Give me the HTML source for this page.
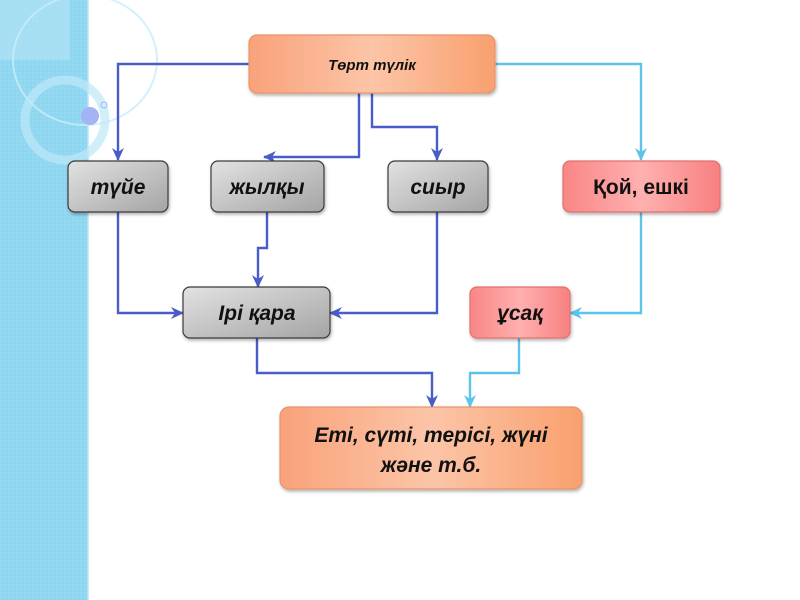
<!DOCTYPE html>
<html><head><meta charset="utf-8"><style>
html,body{margin:0;padding:0;background:#fff;}
svg{display:block;}
text{font-family:"Liberation Sans","DejaVu Sans",sans-serif;font-weight:bold;}
</style></head><body>
<svg width="800" height="600" viewBox="0 0 800 600" xmlns="http://www.w3.org/2000/svg">
<defs>
<linearGradient id="gray" x1="0" y1="0" x2="1" y2="1"><stop offset="0" stop-color="#e2e2e2"/><stop offset="1" stop-color="#a4a4a4"/></linearGradient>
<linearGradient id="orange" x1="0" y1="0" x2="1" y2="0"><stop offset="0" stop-color="#f9a27a"/><stop offset="0.5" stop-color="#fcc5a8"/><stop offset="1" stop-color="#f9a06e"/></linearGradient>
<linearGradient id="pink" x1="0" y1="0" x2="1" y2="0"><stop offset="0" stop-color="#f98686"/><stop offset="0.5" stop-color="#ffb0b0"/><stop offset="1" stop-color="#f88080"/></linearGradient>
<pattern id="dots" width="4" height="4" patternUnits="userSpaceOnUse"><rect width="4" height="4" fill="#8fd6f0"/><rect width="2" height="2" fill="#98daf2"/></pattern>
<marker id="ab" markerWidth="14" markerHeight="14" refX="12" refY="7" orient="auto" markerUnits="userSpaceOnUse"><path d="M0,1 L13,7 L0,13 L4,7 Z" fill="#4a5cc8"/></marker>
<marker id="ac" markerWidth="14" markerHeight="14" refX="12" refY="7" orient="auto" markerUnits="userSpaceOnUse"><path d="M0,1 L13,7 L0,13 L4,7 Z" fill="#5cc4ea"/></marker>
<filter id="sh" x="-10%" y="-10%" width="130%" height="140%"><feDropShadow dx="1" dy="2" stdDeviation="1.5" flood-color="#000" flood-opacity="0.3"/></filter>
</defs>
<rect x="0" y="0" width="88" height="600" fill="url(#dots)"/>
<line x1="88" y1="0" x2="88" y2="600" stroke="#b8e6f6" stroke-width="1.5"/>
<rect x="0" y="0" width="70" height="60" fill="#b5e4f5" opacity="0.6"/>
<ellipse cx="85" cy="60" rx="72" ry="65" fill="none" stroke="#c8eef9" stroke-width="2" opacity="0.8"/>
<circle cx="65" cy="120" r="40" fill="none" stroke="#bde8f6" stroke-width="9" opacity="0.7"/>
<circle cx="90" cy="116" r="9" fill="#a5b2f4"/>
<circle cx="104" cy="105" r="3" fill="none" stroke="#a5b2f4" stroke-width="1"/>

<g fill="none" stroke-width="2.4">
<polyline points="249,64 118,64 118,160" stroke="#4a5cc8" marker-end="url(#ab)"/>
<polyline points="359,93 359,157 264,157" stroke="#4a5cc8" marker-end="url(#ab)"/>
<polyline points="372,93 372,127 437,127 437,160" stroke="#4a5cc8" marker-end="url(#ab)"/>
<polyline points="495,64 641,64 641,160" stroke="#5cc4ea" marker-end="url(#ac)"/>
<polyline points="118,212 118,313 183,313" stroke="#4a5cc8" marker-end="url(#ab)"/>
<polyline points="267,212 267,248 258,248 258,287" stroke="#4a5cc8" marker-end="url(#ab)"/>
<polyline points="437,212 437,313 330,313" stroke="#4a5cc8" marker-end="url(#ab)"/>
<polyline points="641,212 641,313 570,313" stroke="#5cc4ea" marker-end="url(#ac)"/>
<polyline points="257,338 257,373 432,373 432,407" stroke="#4a5cc8" marker-end="url(#ab)"/>
<polyline points="519,338 519,373 470,373 470,407" stroke="#5cc4ea" marker-end="url(#ac)"/>
</g>

<g stroke-width="1.2" filter="url(#sh)">
<rect x="249" y="35" width="246" height="58" rx="8" fill="url(#orange)" stroke="#e8946a"/>
<rect x="68" y="161" width="100" height="51" rx="7" fill="url(#gray)" stroke="#3a3a3a"/>
<rect x="211" y="161" width="113" height="51" rx="7" fill="url(#gray)" stroke="#3a3a3a"/>
<rect x="388" y="161" width="100" height="51" rx="7" fill="url(#gray)" stroke="#3a3a3a"/>
<rect x="563" y="161" width="157" height="51" rx="7" fill="url(#pink)" stroke="#e07070"/>
<rect x="183" y="287" width="147" height="51" rx="7" fill="url(#gray)" stroke="#3a3a3a"/>
<rect x="470" y="287" width="100" height="51" rx="7" fill="url(#pink)" stroke="#e07070"/>
<rect x="280" y="407" width="302" height="82" rx="9" fill="url(#orange)" stroke="#e8946a"/>
</g>

<g fill="#111" text-anchor="middle">
<text x="372" y="70" font-size="15" font-style="italic">Төрт түлік</text>
<text x="118" y="194" font-size="21" font-style="italic">түйе</text>
<text x="267" y="194" font-size="21" font-style="italic">жылқы</text>
<text x="438" y="194" font-size="21" font-style="italic">сиыр</text>
<text x="641" y="194" font-size="21">Қой, ешкі</text>
<text x="257" y="320" font-size="21" font-style="italic">Ірі қара</text>
<text x="520" y="320" font-size="21" font-style="italic">ұсақ</text>
<text x="431" y="442" font-size="21" font-style="italic">Еті, сүті, терісі, жүні</text>
<text x="431" y="472" font-size="21" font-style="italic">және т.б.</text>
</g>
</svg>
</body></html>
